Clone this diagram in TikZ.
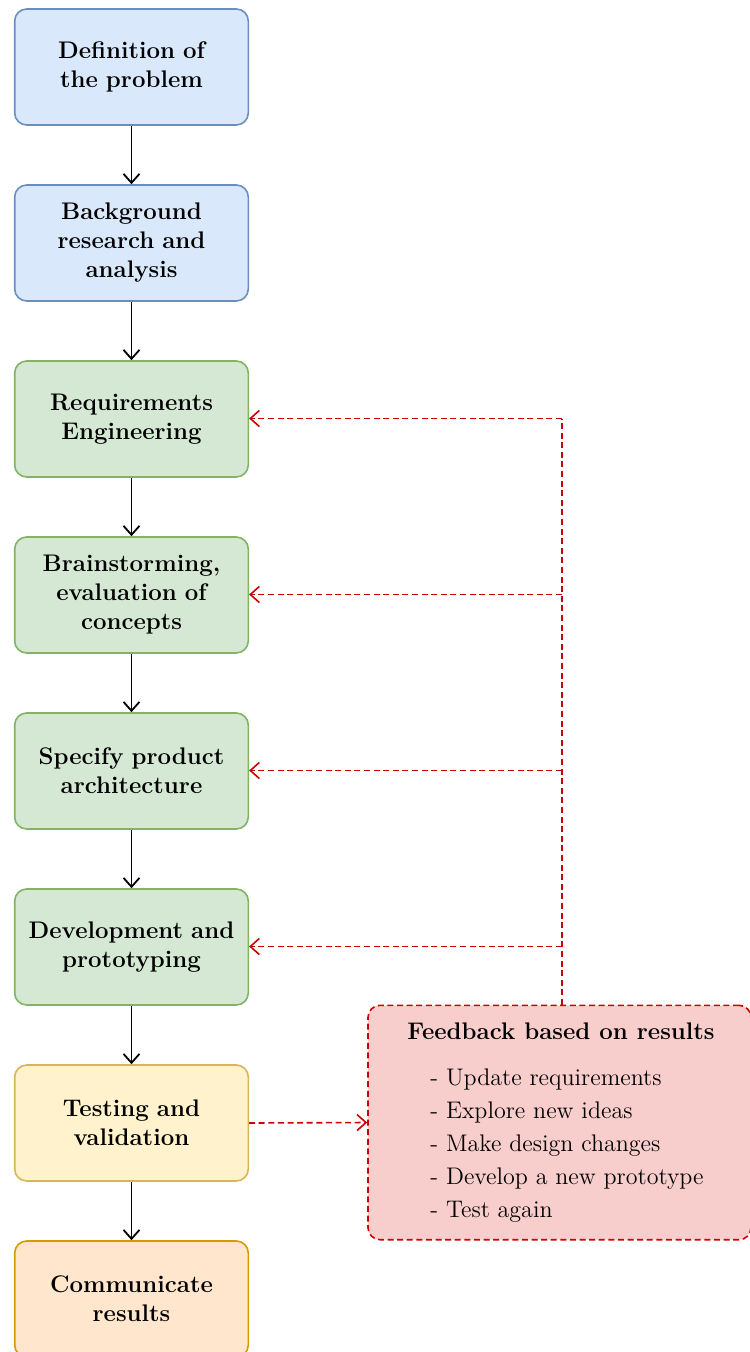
\documentclass[tikz,border=0pt]{standalone}
\usetikzlibrary{arrows.meta}
\definecolor{bfill}{HTML}{DAE8FC}\definecolor{bdraw}{HTML}{6C8EBF}
\definecolor{gfill}{HTML}{D5E8D4}\definecolor{gdraw}{HTML}{82B366}
\definecolor{yfill}{HTML}{FFF2CC}\definecolor{ydraw}{HTML}{D6B656}
\definecolor{ofill}{HTML}{FFE6CC}\definecolor{odraw}{HTML}{D79B00}
\definecolor{rfill}{HTML}{F8CECC}\definecolor{rdraw}{HTML}{CC0000}
\begin{document}
\begin{tikzpicture}[x=0.5pt,y=-0.5pt,
  proc/.style={draw, rounded corners=6pt, minimum width=116.8pt, minimum height=58pt,
    align=center, text width=106pt, inner sep=2pt, line width=0.8pt,
    font=\bfseries\fontsize{12}{14.5}\selectfont},
  bluebox/.style={proc, fill=bfill, draw=bdraw},
  greenbox/.style={proc, fill=gfill, draw=gdraw},
  yellowbox/.style={proc, fill=yfill, draw=ydraw},
  orangebox/.style={proc, fill=ofill, draw=odraw},
  flow/.style={draw=black, line width=0.9pt, -{Straight Barb[length=4.5pt,width=8pt,line width=0.9pt]}},
  fbline/.style={draw=rdraw, line width=0.8pt, dash pattern=on 3pt off 1.8pt},
  fbarrow/.style={fbline, -{Straight Barb[length=4.5pt,width=8pt,line width=0.8pt,line cap=butt]}},
]
\useasboundingbox (0,0) rectangle (749,1352);
\node[bluebox] (n1) at (131.5,67) {Definition of\\the problem};
\node[bluebox] (n2) at (131.5,243) {Background\\research and\\analysis};
\node[greenbox] (n3) at (131.5,419) {Requirements\\Engineering};
\node[greenbox] (n4) at (131.5,595) {Brainstorming,\\evaluation of\\concepts};
\node[greenbox] (n5) at (131.5,771) {Specify product\\architecture};
\node[greenbox] (n6) at (131.5,947) {Development and\\prototyping};
\node[yellowbox] (n7) at (131.5,1123) {Testing and\\validation};
\node[orangebox] (n8) at (131.5,1299) {Communicate\\results};
\foreach \a/\b in {n1/n2,n2/n3,n3/n4,n4/n5,n5/n6,n6/n7,n7/n8}
  \draw[flow] (\a) -- (\b);
% feedback box
\node[draw=rdraw, fill=rfill, line width=0.8pt, dash pattern=on 3pt off 1.8pt,
  rounded corners=6pt, minimum width=191.5pt, minimum height=117.2pt, inner sep=0pt]
  (fb) at (559.5,1122.5) {};
\node[font=\bfseries\fontsize{12}{14.5}\selectfont, anchor=base] (fbt) at (561,1039) {Feedback based on results};
\node[font=\fontsize{12}{16.5}\selectfont, align=left, anchor=north west, inner sep=0pt] (fbl) at (430,1068)
  {- Update requirements\\- Explore new ideas\\- Make design changes\\- Develop a new prototype\\- Test again};
\coordinate (t3) at (562,418.5);
\coordinate (t4) at (562,594.5);
\coordinate (t5) at (562,770.5);
\coordinate (t6) at (562,946.5);
\coordinate (fbtop) at (562,1005);
\draw[fbline] (fbtop) -- (t3);
\draw[fbarrow] (t3) -- (t3 -| n3.east);
\draw[fbarrow] (t4) -- (t4 -| n4.east);
\draw[fbarrow] (t5) -- (t5 -| n5.east);
\draw[fbarrow] (t6) -- (t6 -| n6.east);
\draw[fbarrow] (n7.east) -- (fb.west);
\end{tikzpicture}
\end{document}
